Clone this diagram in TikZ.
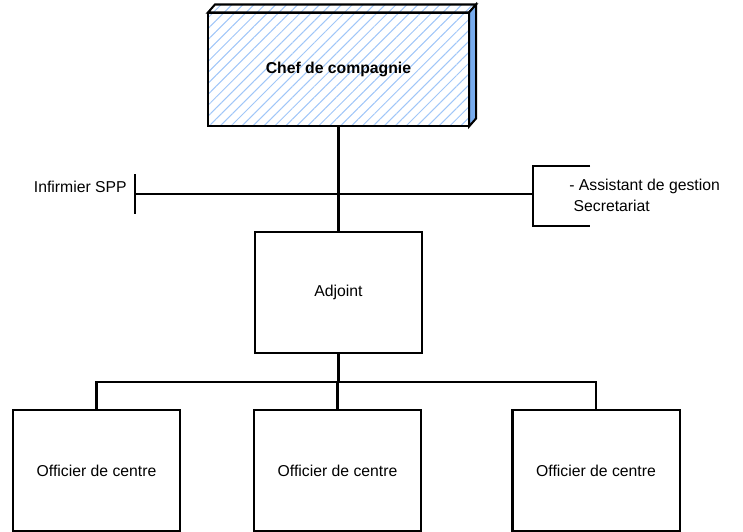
\documentclass[tikz,border=0pt]{standalone}
\usepackage{fontspec}
\setmainfont{Liberation Sans}
\usetikzlibrary{patterns.meta}
\definecolor{hatchblue}{RGB}{160,198,248}
\definecolor{sideblue}{RGB}{120,172,238}

\begin{document}
\begin{tikzpicture}[x=0.025cm, y=-0.025cm,
    conn/.style={line width=1.45pt},
    box/.style={draw, line width=1.45pt, minimum width=4.175cm, minimum height=3.025cm, inner sep=0pt},
    lbl/.style={font=\fontsize{11.2}{15}\selectfont, inner sep=0pt}]
\useasboundingbox (0,0) rectangle (743,532);

% Chef de compagnie (3D box, hatched)
\node[draw, line width=1.45pt, minimum width=6.5cm, minimum height=2.825cm, inner sep=0pt,
      pattern={Lines[angle=45, distance=5.5pt, line width=0.7pt]}, pattern color=hatchblue,
      font=\fontsize{11.2}{13}\selectfont\bfseries] (chef) at (338.5,69.5) {Chef de compagnie};
\draw[line width=1.45pt, pattern={Lines[angle=45, distance=5.5pt, line width=0.7pt]}, pattern color=hatchblue]
    (chef.north west) -- ++(7,-8) -- ([shift={(7,-8)}]chef.north east) -- (chef.north east) -- cycle;
\draw[line width=1.45pt, fill=sideblue]
    (chef.north east) -- ++(7,-8) -- ([shift={(7,-8)}]chef.south east) -- (chef.south east) -- cycle;

% Adjoint
\node[box, lbl] (adj) at (338.5,292.5) {Adjoint};
\draw[conn] (chef.south) -- (adj.north);

% Infirmier SPP / Assistant de gestion
\node[lbl, anchor=east] (inf) at (127,187) {Infirmier SPP};
\coordinate (infbar) at (135,194);
\coordinate (secbar) at (533,194);
\draw[conn] (135,174) -- (135,214);
\draw[conn] (590,166) -| (533,226) -- (590,226);
\draw[conn] (infbar) -- (secbar);
\node[lbl, anchor=north west, align=left] (sec) at (569,179) {- Assistant de gestion\\\hspace{3.1pt}Secretariat};

% Officiers de centre
\node[box, lbl] (off1) at (96.5,470.5) {Officier de centre};
\node[box, lbl] (off2) at (337.5,470.5) {Officier de centre};
\node[box, lbl] (off3) at (596,470.5) {Officier de centre};
\coordinate (bus) at (338.5,382);
\draw[conn] (adj.south) -- (bus);
\draw[conn] (off1.north) -- (off1.north |- bus) -- (off3.north |- bus) -- (off3.north);
\draw[conn] (off2.north) -- (off2.north |- bus);
\end{tikzpicture}
\end{document}
